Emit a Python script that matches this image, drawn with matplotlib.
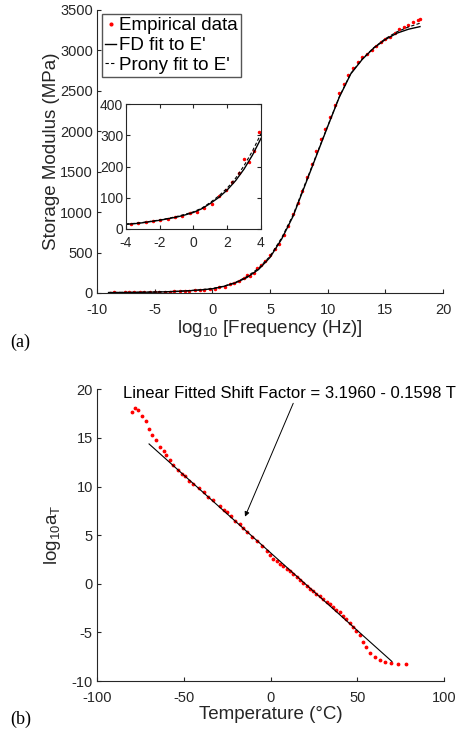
import matplotlib
matplotlib.use("Agg")
import matplotlib.pyplot as plt

plt.rcParams['font.family'] = ['Liberation Sans', 'DejaVu Sans']
plt.rcParams['mathtext.default'] = 'regular'
plt.rcParams['axes.unicode_minus'] = False

# --- (a) storage modulus master curve ---
fit_x = [-9, -8, -7, -6, -5, -4, -3, -2, -1, 0, 1, 2, 3, 4, 5, 6, 7, 8, 9,
         10, 11, 12, 13, 14, 15, 16, 17, 18]
fd_fit = [5, 6, 7, 9, 11, 15, 20, 28, 38, 52, 82, 125, 192, 290, 440, 665,
          950, 1320, 1690, 2060, 2420, 2710, 2890, 3030, 3135, 3213, 3262, 3294]
prony_fit = [6, 7, 8, 10, 12, 16, 21, 29, 40, 55, 85, 131, 203, 305, 455, 680,
             965, 1335, 1700, 2065, 2425, 2715, 2895, 3035, 3145, 3230, 3290, 3336]

# finer points for the zoomed inset
inset_x = [-4, -3.5, -3, -2.5, -2, -1.5, -1, -0.5, 0, 0.5, 1, 1.5, 2, 2.5, 3, 3.5, 4]
inset_fd = [15, 17, 20, 24, 28, 33, 38, 45, 53, 65, 82, 101, 125, 155, 192, 237, 290]
inset_prony = [16, 18, 21, 25, 29, 34, 40, 47, 55, 67, 85, 106, 131, 163, 203, 250, 305]

emp_x = [-8.9, -8.5, -8.1, -7.6, -7.2, -6.8, -6.3, -5.9, -5.4, -5.0, -4.6, -4.1,
         -3.7, -3.3, -2.8, -2.4, -2.0, -1.5, -1.1, -0.7, -0.2, 0.2, 0.6, 1.1,
         1.5, 1.9, 2.3, 2.7, 3.0, 3.3, 3.6, 3.9, 4.2, 4.6, 5.0, 5.4, 5.8, 6.2,
         6.6, 7.0, 7.4, 7.8, 8.2, 8.6, 9.0, 9.4, 9.8, 10.2, 10.6, 11.0, 11.4,
         11.8, 12.2, 12.6, 13.0, 13.4, 13.8, 14.2, 14.6, 15.0, 15.4, 15.8, 16.2,
         16.6, 17.0, 17.4, 17.8, 18.0]
emp_y = [4, 6, 5, 7, 8, 7, 9, 10, 11, 12, 13, 15,
         17, 19, 22, 24, 28, 32, 37, 40, 50, 55, 68, 80,
         105, 125, 150, 180, 225, 215, 250, 310, 345, 400, 470, 545, 610, 720,
         830, 980, 1110, 1260, 1430, 1590, 1750, 1900, 2030, 2180, 2320, 2470, 2580,
         2690, 2780, 2860, 2920, 2960, 3000, 3060, 3100, 3140, 3170, 3210, 3260,
         3290, 3320, 3350, 3370, 3390]

# --- (b) shift factor ---
temp = [-80, -78, -76.4, -74.1, -71.8, -70.3, -68.4, -66.1, -63.9, -61.6, -60.3,
        -58.2, -56, -53.5, -51, -49.2, -46.8, -44.4, -41.5, -38.6, -35.8, -32.9,
        -29, -27, -25.2, -22.8, -20.4, -17.5, -15.6, -13.7, -10.8, -8, -5, -2.2,
        -0.3, 1.6, 3.6, 5.5, 7.4, 9.3, 11.2, 13.1, 15, 17, 18.9, 20.8, 22.7, 24.6,
        26.5, 28.5, 30.4, 32.3, 34.2, 36.1, 38, 40, 41.9, 43.8, 45.7, 47.6, 49.5,
        51.5, 53.4, 55.3, 57.2, 60.1, 63, 65.9, 69.7, 73.5, 78]
log_aT = [17.63, 18.05, 17.9, 17.3, 16.7, 15.9, 15.3, 14.8, 14.1, 13.7, 13.2,
          12.7, 12.2, 11.7, 11.3, 11.1, 10.6, 10.3, 9.8, 9.4, 8.9, 8.6,
          8.0, 7.6, 7.35, 6.95, 6.5, 6.1, 5.7, 5.35, 4.8, 4.4, 3.9, 3.4,
          3.0, 2.6, 2.3, 2.0, 1.8, 1.55, 1.3, 1.0, 0.7, 0.35, 0.05, -0.2, -0.5, -0.75,
          -1.05, -1.3, -1.6, -1.85, -2.1, -2.4, -2.65, -2.95, -3.3, -3.6, -4.0, -4.45, -4.9,
          -5.3, -5.95, -6.5, -7.15, -7.5, -7.8, -8.0, -8.1, -8.2, -8.25]
line_T = [-70, 70]
line_fit = [14.38, -7.99]

dark = '#262626'
fig = plt.figure(figsize=(4.62, 7.33), dpi=100)

# panel (a)
ax1 = fig.add_axes([0.21, 0.6003, 0.749, 0.3861])
ax1.plot(emp_x, emp_y, '.', color='red', markersize=3, label='Empirical data')
ax1.plot(fit_x, fd_fit, '-', color='black', lw=1.0, label="FD fit to E'")
ax1.plot(fit_x, prony_fit, '--', color='black', lw=0.8, dashes=(3, 2), label="Prony fit to E'")
ax1.set_xlim(-10, 20)
ax1.set_ylim(0, 3500)
ax1.set_xticks(range(-10, 21, 5))
ax1.set_yticks(range(0, 3501, 500))
ax1.set_xlabel('log$_{10}$ [Frequency (Hz)]', fontsize=13.5, color=dark, labelpad=1)
ax1.set_ylabel('Storage Modulus (MPa)', fontsize=13.5, color=dark, labelpad=0)
leg = ax1.legend(loc='upper left', bbox_to_anchor=(0.015, 0.985), fontsize=13.5,
                 fancybox=False, framealpha=1, edgecolor='#555555',
                 handlelength=0.6, handletextpad=0.15, borderpad=0.15,
                 labelspacing=0.15, borderaxespad=0, markerscale=1.3)
leg.get_frame().set_linewidth(1.0)

# inset
ax_in = fig.add_axes([0.2727, 0.6876, 0.2922, 0.1705])
ax_in.plot(emp_x, emp_y, '.', color='red', markersize=3)
ax_in.plot(inset_x, inset_fd, '-', color='black', lw=1.0)
ax_in.plot(inset_x, inset_prony, '--', color='black', lw=0.8, dashes=(3, 2))
ax_in.set_xlim(-4, 4)
ax_in.set_ylim(0, 400)
ax_in.set_xticks([-4, -2, 0, 2, 4])
ax_in.set_yticks([0, 100, 200, 300, 400])
ax_in.tick_params(direction='in', top=True, right=True, labelsize=10,
                  colors=dark, length=3, width=0.8, pad=2)
ax_in.tick_params(axis='x', pad=5)
for s in ax_in.spines.values():
    s.set_color(dark)
    s.set_linewidth(0.8)

# panel (b)
ax2 = fig.add_axes([0.21, 0.0709, 0.751, 0.398])
ax2.plot(temp, log_aT, '.', color='red', markersize=3.5)
ax2.plot(line_T, line_fit, '-', color='black', lw=0.8)
ax2.set_xlim(-100, 100)
ax2.set_ylim(-10, 20)
ax2.set_xticks(range(-100, 101, 50))
ax2.set_yticks(range(-10, 21, 5))
ax2.set_xlabel('Temperature (°C)', fontsize=13.5, color=dark, labelpad=1)
ax2.set_ylabel('log$_{10}$a$_T$', fontsize=13.5, color=dark, labelpad=6)
ax2.text(-85, 19.6, 'Linear Fitted Shift Factor = 3.1960 - 0.1598 T',
         fontsize=12, color='black', va='center', ha='left', clip_on=False)
ax2.annotate('', xy=(-14.7, 6.9), xytext=(13.1, 18.56),
             arrowprops=dict(arrowstyle='-|>', color='black', lw=0.7,
                             mutation_scale=7, shrinkA=0, shrinkB=0))

for ax in (ax1, ax2):
    ax.spines['top'].set_visible(False)
    ax.spines['right'].set_visible(False)
    for s in ('left', 'bottom'):
        ax.spines[s].set_color(dark)
        ax.spines[s].set_linewidth(0.8)
    ax.tick_params(direction='in', labelsize=10.5, colors=dark, length=3,
                   width=0.8, pad=3)
    ax.tick_params(axis='x', pad=7)

fig.text(0.022, 0.533, '(a)', fontsize=13, family='Liberation Serif', va='center')
fig.text(0.022, 0.018, '(b)', fontsize=13, family='Liberation Serif', va='center')

fig.savefig('out.png', dpi=100)
